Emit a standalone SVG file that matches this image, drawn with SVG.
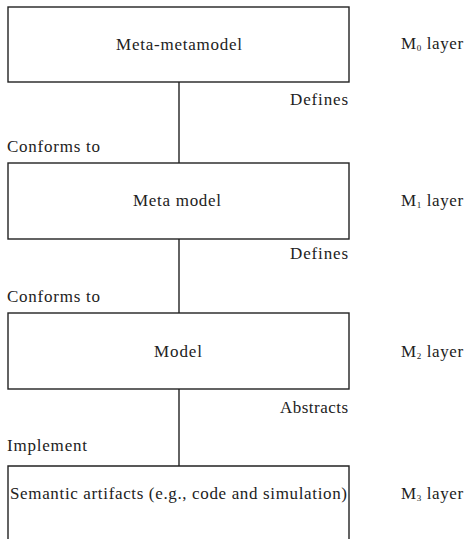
<svg xmlns="http://www.w3.org/2000/svg" width="464" height="539" viewBox="0 0 464 539">
<style>
.box{fill:#fff;stroke:#222;stroke-width:1.4}
.conn{stroke:#222;stroke-width:1.4;fill:none}
text{font-family:"Liberation Serif","Times New Roman",serif;font-size:17px;fill:#222}
.lay{letter-spacing:0.6px}
.sub{font-size:9px}
</style>
<rect width="464" height="539" fill="#fff"/>
<g id="connectors">
<line class="conn" x1="179" y1="82" x2="179" y2="163"/>
<line class="conn" x1="179" y1="239" x2="179" y2="313"/>
<line class="conn" x1="179" y1="389" x2="179" y2="466"/>
<text x="290" y="105" textLength="58" lengthAdjust="spacing">Defines</text>
<text x="7" y="152" textLength="93" lengthAdjust="spacing">Conforms to</text>
<text x="290" y="259" textLength="58" lengthAdjust="spacing">Defines</text>
<text x="7" y="302" textLength="93" lengthAdjust="spacing">Conforms to</text>
<text x="280" y="413" textLength="68" lengthAdjust="spacing">Abstracts</text>
<text x="7" y="451" textLength="80" lengthAdjust="spacing">Implement</text>
</g>
<g id="meta-metamodel">
<rect class="box" x="8" y="7" width="341" height="75"/>
<text x="116" y="50" textLength="126" lengthAdjust="spacing">Meta-metamodel</text>
</g>
<g id="meta-model">
<rect class="box" x="8" y="163" width="341" height="76"/>
<text x="133" y="206" textLength="88" lengthAdjust="spacing">Meta model</text>
</g>
<g id="model">
<rect class="box" x="8" y="313" width="341" height="76"/>
<text x="154" y="357" textLength="48" lengthAdjust="spacing">Model</text>
</g>
<g id="semantic-artifacts">
<path class="box" d="M8,545 V466 H349 V545"/>
<text x="10" y="499" textLength="337" lengthAdjust="spacing">Semantic artifacts (e.g., code and simulation)</text>
</g>
<g id="layers">
<text class="lay" x="401" y="49">M<tspan class="sub" dy="2">0</tspan><tspan dy="-2"> layer</tspan></text>
<text class="lay" x="401" y="206">M<tspan class="sub" dy="2">1</tspan><tspan dy="-2"> layer</tspan></text>
<text class="lay" x="401" y="357">M<tspan class="sub" dy="2">2</tspan><tspan dy="-2"> layer</tspan></text>
<text class="lay" x="401" y="499">M<tspan class="sub" dy="2">3</tspan><tspan dy="-2"> layer</tspan></text>
</g>
</svg>
